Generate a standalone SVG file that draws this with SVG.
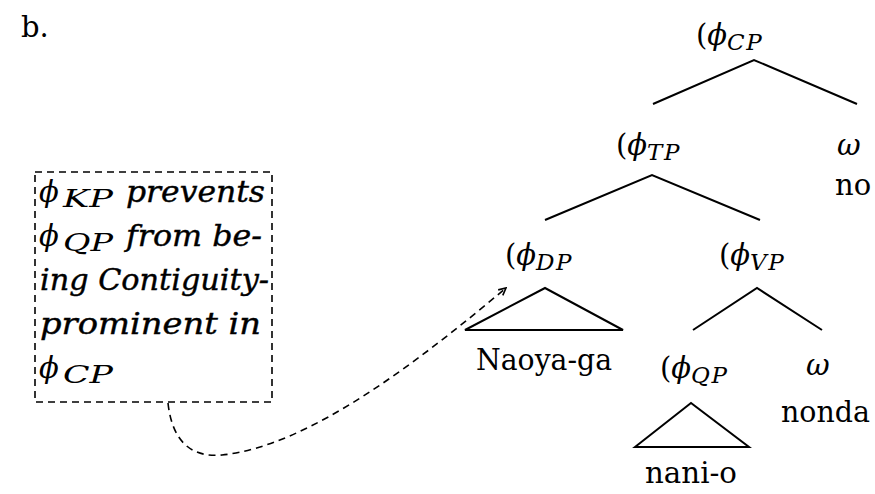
<svg xmlns="http://www.w3.org/2000/svg" width="875" height="494" viewBox="0 0 875 494">
  <style>
    .rm { font-family: "DejaVu Serif", "Liberation Serif", serif; font-size: 29px; fill: #000; }
    .it { font-family: "DejaVu Serif", "Liberation Serif", serif; font-style: italic; }
    .sub { font-family: "DejaVu Serif", "Liberation Serif", serif; font-style: italic; font-size: 23px; letter-spacing: 1.5px; }
    .nsub { font-family: "DejaVu Serif", "Liberation Serif", serif; font-style: italic; font-size: 24px; fill: #000; }
    .note { font-family: "DejaVu Serif", "Liberation Serif", serif; font-style: italic; font-size: 29px; fill: #000; }
    .heavy { stroke: #000; stroke-width: 0.4; }
    .edge { stroke: #000; stroke-width: 2; fill: none; }
    .dash { stroke: #000; stroke-width: 1.6; fill: none; stroke-dasharray: 7 5; }
  </style>
  <defs>
    <marker id="open" viewBox="0 0 10 10" refX="9" refY="5" markerWidth="9" markerHeight="9" orient="auto" markerUnits="userSpaceOnUse">
      <path d="M1,1 L9,5 L1,9" fill="none" stroke="#000" stroke-width="1.8"/>
    </marker>
  </defs>
  <rect width="875" height="494" fill="#fff"/>

  <text class="rm" x="21" y="37" font-size="31">b.</text>

  <!-- tree edges and the dashed pointer -->
  <g id="connectors">
    <path class="edge" d="M653,104 L754,60 L857,104"/>
    <path class="edge" d="M545,220 L652,175 L760,220"/>
    <path class="edge" d="M465,330 L545,288 L623,330 Z"/>
    <path class="edge" d="M693,330 L757,288 L822,330"/>
    <path class="edge" d="M635,447 L691,403 L749,447 Z"/>
    <path class="dash" d="M168,403 C172,440 190,458 222,455 C310,446 420,360 506,288" marker-end="url(#open)"/>
  </g>

  <g id="cp">
    <text class="rm" x="696" y="45">(<tspan class="it">ϕ</tspan><tspan class="sub" dy="5">CP</tspan></text>
  </g>
  <g id="tp">
    <text class="rm" x="616" y="155">(<tspan class="it">ϕ</tspan><tspan class="sub" dy="5">TP</tspan></text>
  </g>
  <g id="omega-no">
    <text class="rm it" x="837" y="155">ω</text>
    <text class="rm" x="835" y="195">no</text>
  </g>
  <g id="dp">
    <text class="rm" x="505" y="265">(<tspan class="it">ϕ</tspan><tspan class="sub" dy="5">DP</tspan></text>
    <text class="rm" x="476" y="370" textLength="136" lengthAdjust="spacingAndGlyphs">Naoya-ga</text>
  </g>
  <g id="vp">
    <text class="rm" x="719" y="265">(<tspan class="it">ϕ</tspan><tspan class="sub" dy="5">VP</tspan></text>
  </g>
  <g id="qp">
    <text class="rm" x="660" y="378">(<tspan class="it">ϕ</tspan><tspan class="sub" dy="5">QP</tspan></text>
    <text class="rm" x="645" y="483" textLength="92" lengthAdjust="spacingAndGlyphs">nani-o</text>
  </g>
  <g id="omega-nonda">
    <text class="rm it" x="806" y="375">ω</text>
    <text class="rm" x="781" y="422" textLength="89" lengthAdjust="spacingAndGlyphs">nonda</text>
  </g>

  <g id="note">
    <rect class="dash" x="35" y="172" width="237" height="230"/>
    <text class="note" x="39" y="202">ϕ</text>
    <text class="nsub" x="63" y="207" textLength="50" lengthAdjust="spacingAndGlyphs">KP</text>
    <text class="note heavy" x="126" y="202" textLength="139" lengthAdjust="spacingAndGlyphs">prevents</text>
    <text class="note" x="39" y="246">ϕ</text>
    <text class="nsub" x="63" y="251" textLength="50" lengthAdjust="spacingAndGlyphs">QP</text>
    <text class="note heavy" x="126" y="246" textLength="136" lengthAdjust="spacingAndGlyphs">from be-</text>
    <text class="note heavy" x="40" y="290" textLength="229" lengthAdjust="spacingAndGlyphs">ing Contiguity-</text>
    <text class="note heavy" x="40" y="334" textLength="221" lengthAdjust="spacingAndGlyphs">prominent in</text>
    <text class="note" x="39" y="378">ϕ</text>
    <text class="nsub" x="63" y="383" textLength="50" lengthAdjust="spacingAndGlyphs">CP</text>
  </g>
</svg>
